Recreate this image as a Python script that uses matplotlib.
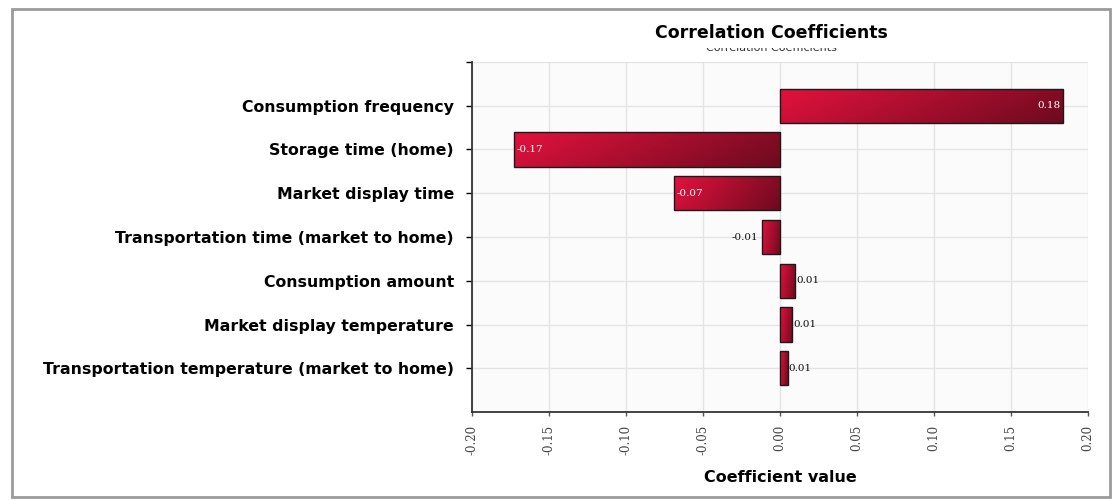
import numpy as np
import matplotlib
matplotlib.use('Agg')
import matplotlib.pyplot as plt
from matplotlib.patches import Rectangle

# data
factors = ['Consumption frequency', 'Storage time (home)', 'Market display time',
           'Transportation time (market to home)', 'Consumption amount',
           'Market display temperature', 'Transportation temperature (market to home)']
coefs = [0.184, -0.173, -0.069, -0.012, 0.010, 0.008, 0.005]
coef_labels = ['0.18', '-0.17', '-0.07', '-0.01', '0.01', '0.01', '0.01']
xticks = [-0.20, -0.15, -0.10, -0.05, 0.00, 0.05, 0.10, 0.15, 0.20]

fig = plt.figure(figsize=(11.2, 5.01), dpi=100)
W, H = 1120., 501.

# grey frame round the whole picture
fig.patches.append(Rectangle((12/W, 1-497/H), (1110-12)/W, (497-9)/H, transform=fig.transFigure,
                             fill=False, edgecolor='#9a9a9a', lw=2))

ax = fig.add_axes([472/W, 1-412/H, (1088-472)/W, (412-62)/H])
ax.set_facecolor('#fbfbfb')

n = len(factors)
y = np.arange(n)
bh = 0.78

# gradient fill for the bars (bright left -> dark right, on screen)
gx = np.linspace(0, 1, 64)[None, :]
gy = np.linspace(0, 1, 16)[:, None]
tt = 0.8*gx + 0.2*gy
c0 = np.array([0.89, 0.07, 0.24])
c1 = np.array([0.43, 0.04, 0.12])
grad = c0[None, None, :]*(1-tt[..., None]) + c1[None, None, :]*tt[..., None]

bars = ax.barh(y, coefs, height=bh, color='none', edgecolor='#1a1a1a', lw=1.0, zorder=3)
for b in bars:
    x0, y0 = b.get_x(), b.get_y()
    w, h = b.get_width(), b.get_height()
    xa, xb = min(x0, x0+w), max(x0, x0+w)
    im = ax.imshow(grad, extent=[xa, xb, y0+h, y0], aspect='auto', zorder=2,
                   interpolation='bilinear')
    im.set_clip_path(b)

for i, (v, lab) in enumerate(zip(coefs, coef_labels)):
    if abs(v) > 0.05:
        if v > 0:
            ax.text(v-0.002, i, lab, ha='right', va='center', color='white',
                    family='DejaVu Serif', fontsize=7.5, zorder=4)
        else:
            ax.text(v+0.002, i, lab, ha='left', va='center', color='white',
                    family='DejaVu Serif', fontsize=7.5, zorder=4)
    else:
        if v > 0:
            ax.text(v+0.0005, i, lab, ha='left', va='center', color='#111111',
                    family='DejaVu Serif', fontsize=7.5, zorder=4)
        else:
            ax.text(v-0.002, i, lab, ha='right', va='center', color='#111111',
                    family='DejaVu Serif', fontsize=7.5, zorder=4)

ax.set_xlim(-0.20, 0.20)
ax.set_ylim(7, -1)
ax.set_xticks(xticks)
ax.set_xticklabels(['%.2f' % t for t in xticks], rotation=90)
for t in ax.get_xticklabels():
    t.set_fontfamily('DejaVu Serif')
    t.set_fontsize(8.5)
    t.set_color('#444444')
ax.set_yticks(np.arange(-1, n))
ax.set_yticklabels([''] + factors, fontsize=11.3, fontweight='bold')
ax.tick_params(axis='y', length=4, width=1, pad=9)
ax.tick_params(axis='x', length=3, width=1, pad=6, color='#555555')
ax.grid(True, color='#e4e4e4', lw=1)
ax.set_axisbelow(True)
for s in ['top', 'right']:
    ax.spines[s].set_visible(False)
ax.spines['left'].set_color('#333333')
ax.spines['bottom'].set_color('#333333')
ax.spines['left'].set_linewidth(1.3)
ax.spines['bottom'].set_linewidth(1.3)

ax.set_xlabel('Coefficient value', fontsize=11.5, fontweight='bold', labelpad=11)

# faint duplicated subtitle partly hidden behind the title band
fig.text(771/W, 1-48/H, 'Correlation Coefficients', ha='center', va='center',
         fontsize=8, color='#333333')
fig.patches.append(Rectangle((600/W, 1-47.5/H), 340/W, 30/H, transform=fig.transFigure,
                             facecolor='white', edgecolor='none', zorder=5))
fig.text(771/W, 1-33/H, 'Correlation Coefficients', ha='center', va='center',
         fontsize=12.5, fontweight='bold', zorder=6)

fig.savefig('out.png', dpi=100)
